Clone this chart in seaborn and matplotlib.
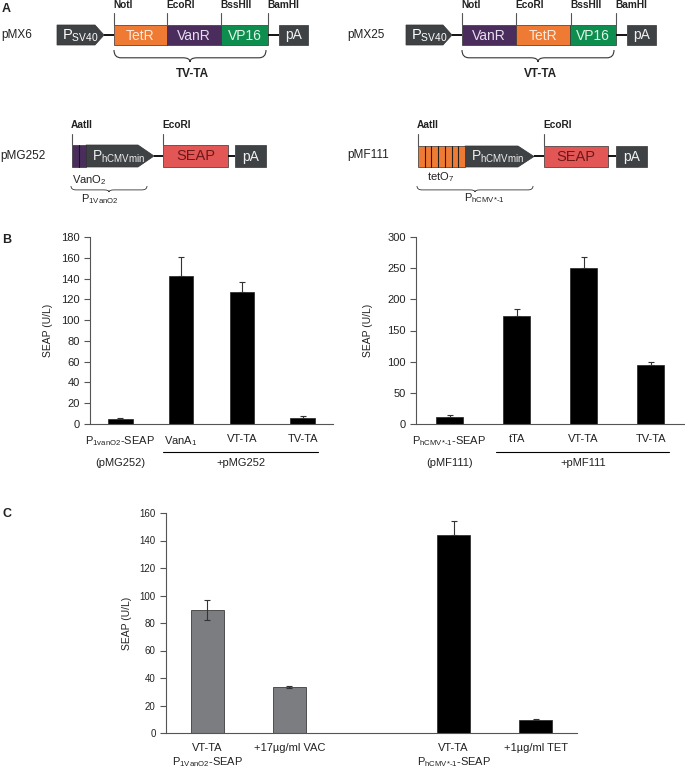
import matplotlib
matplotlib.use('Agg')
import matplotlib.pyplot as plt
import matplotlib.patches as mpatches
from matplotlib.path import Path
import numpy as np
import pandas as pd
import seaborn as sns

sns.set_style('white')
plt.rcParams['font.family'] = ['Liberation Sans', 'DejaVu Sans']
plt.rcParams['mathtext.fontset'] = 'custom'
plt.rcParams['mathtext.rm'] = 'Liberation Sans'
plt.rcParams['mathtext.it'] = 'Liberation Sans:italic'
plt.rcParams['mathtext.bf'] = 'Liberation Sans:bold'

HCMV = r'P$_{\mathrm{hCMV{*}\text{-}1}}$'

# Panel B, left: pMG252 reporter
b1_labels = [r'P$_{\mathrm{1vanO2}}$-SEAP', r'VanA$_{1}$', 'VT-TA', 'TV-TA']
b1_values = [4.5, 142, 127, 6]
b1_err = [1.5, 19, 10, 2]

# Panel B, right: pMF111 reporter
b2_labels = [HCMV + '-SEAP', 'tTA', 'VT-TA', 'TV-TA']
b2_values = [11, 174, 250, 95]
b2_err = [3.5, 10, 18, 4]

# Panel C: inducer response
c_labels = ['VT-TA\n' + r'P$_{\mathrm{1VanO2}}$-SEAP', '+17µg/ml VAC', ' ',
            'VT-TA\n' + HCMV + '-SEAP', '+1µg/ml TET']
c_values = [89.5, 33.5, np.nan, 144, 9.3]
c_err = [7, 0.5, np.nan, 10, 1]
c_colors = ['#7b7d81', '#7b7d81', '#000000', '#000000', '#000000']

W, H = 685, 769
ORANGE = '#ee7a33'
PURPLE = '#4a2d5c'
GREEN = '#0e8e4e'
DGRAY = '#3f4245'
RED = '#e25656'

fig = plt.figure(figsize=(W / 100, H / 100), dpi=100)

# ---------- panel A: schematic, drawn in pixel coords ----------
ax0 = fig.add_axes([0, 0, 1, 1])
ax0.set_xlim(0, W)
ax0.set_ylim(H, 0)
ax0.axis('off')


def box(x0, x1, y0, y1, color, text='', tc='white', fs=10):
    ax0.add_patch(mpatches.Rectangle((x0, y0), x1 - x0, y1 - y0, facecolor=color,
                                     edgecolor='#333333', lw=0.5))
    if text:
        ax0.text((x0 + x1) / 2, (y0 + y1) / 2 + 0.5, text, color=tc, fontsize=fs,
                 ha='center', va='center')


def promoter(x0, xa, x1, y0, y1, color=DGRAY):
    ym = (y0 + y1) / 2
    ax0.add_patch(mpatches.Polygon([(x0, y0), (xa, y0), (x1, ym), (xa, y1), (x0, y1)],
                                   closed=True, facecolor=color, edgecolor='#333333', lw=0.5))


def link(x0, x1, y):
    ax0.plot([x0, x1], [y, y], color='black', lw=1.3, solid_capstyle='butt')


def site(x, y0, y1, label, ly):
    ax0.plot([x, x], [y0, y1], color='#555555', lw=0.8)
    ax0.text(x - 1, ly, label, fontsize=7.3, fontweight='bold', ha='left', va='center',
             color='#222222')


def brace(x0, x1, yt, h, xm=None, r=7, lw=0.8):
    if xm is None:
        xm = (x0 + x1) / 2
    ym = yt + h * 0.65
    verts = [(x0, yt), (x0, ym), (x0 + r, ym),
             (xm - r, ym), (xm, ym), (xm, yt + h),
             (xm, ym), (xm + r, ym),
             (x1 - r, ym), (x1, ym), (x1, yt)]
    codes = [Path.MOVETO, Path.CURVE3, Path.CURVE3,
             Path.LINETO, Path.CURVE3, Path.CURVE3,
             Path.CURVE3, Path.CURVE3,
             Path.LINETO, Path.CURVE3, Path.CURVE3]
    ax0.add_patch(mpatches.PathPatch(Path(verts, codes), facecolor='none',
                                     edgecolor='#333333', lw=lw))


def label(x, y, s, fs=8, **kw):
    ax0.text(x, y, s, fontsize=fs, va='center', color='#222222', **kw)


# panel letters
label(2, 9, 'A', fs=9, fontweight='bold')
label(2, 240, 'B', fs=9, fontweight='bold')
label(3, 514, 'C', fs=9, fontweight='bold')

# pMX6
label(1, 35, 'pMX6', fs=8.5)
promoter(57, 95, 104, 25, 45)
ax0.text(62, 36, r'P$_{\mathrm{SV40}}$', color='white', fontsize=10.5, va='center')
link(104, 114, 35)
box(114, 167, 25, 45, ORANGE, 'TetR', tc='#fde9dc')
box(167, 221, 25, 45, PURPLE, 'VanR', tc='#e6def0')
box(221, 268, 25, 45, GREEN, 'VP16', tc='#e3f4ea')
link(268, 279, 35)
box(279, 308, 25, 45, DGRAY, 'pA', tc='#f0f0f0')
for x, s in [(114, 'NotI'), (167, 'EcoRI'), (221, 'BssHII'), (268, 'BamHI')]:
    site(x, 13, 25, s, 5)
brace(114, 266, 50, 12)
label(192, 74, 'TV-TA', fs=8.5, fontweight='bold', ha='center')

# pMX25
label(347, 35, 'pMX25', fs=8.5)
promoter(406, 443, 452, 25, 45)
ax0.text(411, 36, r'P$_{\mathrm{SV40}}$', color='white', fontsize=10.5, va='center')
link(452, 462, 35)
box(462, 516, 25, 45, PURPLE, 'VanR', tc='#e6def0')
box(516, 570, 25, 45, ORANGE, 'TetR', tc='#fde9dc')
box(570, 616, 25, 45, GREEN, 'VP16', tc='#e3f4ea')
link(616, 627, 35)
box(627, 656, 25, 45, DGRAY, 'pA', tc='#f0f0f0')
for x, s in [(462, 'NotI'), (516, 'EcoRI'), (571, 'BssHII'), (616, 'BamHI')]:
    site(x, 13, 25, s, 5)
brace(462, 614, 50, 12)
label(540, 74, 'VT-TA', fs=8.5, fontweight='bold', ha='center')

# pMG252
label(0, 156, 'pMG252', fs=8.5)
promoter(86, 138, 154, 145, 167)
box(72, 86, 145, 167, PURPLE)
ax0.plot([79, 79], [145, 167], color='#1c1024', lw=0.8)
ax0.text(92, 157, r'P$_{\mathrm{hCMVmin}}$', color='#eeeeee', fontsize=10, va='center')
link(154, 163, 156)
box(163, 228, 145, 167, RED, 'SEAP', tc='#6e1818', fs=10.5)
link(228, 235, 156)
box(235, 266, 145, 167, DGRAY, 'pA', tc='#f0f0f0')
site(72, 134, 145, 'AatII', 125)
site(163, 134, 145, 'EcoRI', 125)
label(72, 180, r'VanO$_{2}$', fs=8)
brace(71, 147, 186, 6, xm=109, r=5, lw=0.6)
label(100, 199, r'P$_{\mathrm{1VanO2}}$', fs=8, ha='center')

# pMF111
label(347, 155, 'pMF111', fs=8.5)
promoter(465, 518, 534, 146, 167)
box(418, 465, 146, 167, ORANGE)
for k in range(1, 7):
    xk = 418 + k * 47 / 7
    ax0.plot([xk, xk], [146, 167], color='#222222', lw=0.8)
ax0.text(471, 157, r'P$_{\mathrm{hCMVmin}}$', color='#eeeeee', fontsize=10, va='center')
link(534, 544, 156)
box(544, 608, 146, 167, RED, 'SEAP', tc='#6e1818', fs=10.5)
link(608, 616, 156)
box(616, 647, 146, 167, DGRAY, 'pA', tc='#f0f0f0')
site(418, 134, 146, 'AatII', 125)
site(544, 134, 146, 'EcoRI', 125)
label(427, 177, r'tetO$_{7}$', fs=8)
brace(417, 533, 186, 6, xm=475, r=5, lw=0.6)
label(464, 198, HCMV, fs=8)


# ---------- bar charts ----------
def make_ax(l, r, t, b):
    return fig.add_axes([l / W, 1 - b / H, (r - l) / W, (b - t) / H])


def bar_panel(ax, labels, values, errs, colors, ymax, ystep, fs=8):
    df = pd.DataFrame({'cond': labels, 'seap': values})
    pal = dict(zip(labels, colors))
    sns.barplot(data=df, x='cond', y='seap', hue='cond', order=labels, hue_order=labels,
                palette=pal, width=0.4, edgecolor='#222222', linewidth=0.5,
                errorbar=None, legend=False, ax=ax)
    # lower whisker only shows on the grey bars; hidden inside the black ones
    lower = [e if c != 'black' and c != '#000000' else 0 for e, c in zip(errs, colors)]
    ax.errorbar(np.arange(len(labels)), values, yerr=[lower, errs], fmt='none',
                ecolor='#333333', elinewidth=0.8, capsize=2.5, capthick=0.8)
    n = len(labels)
    ax.set_xlim(-0.5, n - 0.5)
    ax.set_ylim(0, ymax)
    ax.set_yticks(np.arange(0, ymax + 1, ystep))
    ax.set_xticks(np.arange(-0.5, n, 1.0), minor=True)
    ax.tick_params(axis='x', which='major', length=0, pad=7, labelsize=fs, colors='#222222')
    ax.tick_params(axis='x', which='minor', length=4, direction='out', width=0.8, color='#555555')
    ax.tick_params(axis='y', which='major', length=4, direction='out', width=0.8,
                   labelsize=fs, color='#555555', labelcolor='#222222', left=True)
    for side in ['top', 'right']:
        ax.spines[side].set_visible(False)
    for side in ['left', 'bottom']:
        ax.spines[side].set_color('#555555')
        ax.spines[side].set_linewidth(0.8)
    ax.set_xlabel('')
    ax.set_ylabel('SEAP (U/L)', fontsize=7.5, color='#222222')
    ax.patch.set_alpha(0)


axb1 = make_ax(90, 333, 237, 424)
bar_panel(axb1, b1_labels, b1_values, b1_err, ['black'] * 4, 180, 20)
axb1.yaxis.set_label_coords(-0.152, 0.5)
axb1.plot([0.7, 3.25], [-0.15, -0.15], color='black', lw=0.8,
          transform=axb1.get_xaxis_transform(), clip_on=False)
axb1.text(0, -0.21, '(pMG252)', fontsize=8, ha='center', va='center',
          transform=axb1.get_xaxis_transform(), color='#222222')
axb1.text(1.98, -0.21, '+pMG252', fontsize=8, ha='center', va='center',
          transform=axb1.get_xaxis_transform(), color='#222222')

axb2 = make_ax(416, 684, 237, 424)
bar_panel(axb2, b2_labels, b2_values, b2_err, ['black'] * 4, 300, 50)
axb2.yaxis.set_label_coords(-0.16, 0.5)
axb2.plot([0.7, 3.27], [-0.15, -0.15], color='black', lw=0.8,
          transform=axb2.get_xaxis_transform(), clip_on=False)
axb2.text(0, -0.21, '(pMF111)', fontsize=8, ha='center', va='center',
          transform=axb2.get_xaxis_transform(), color='#222222')
axb2.text(2.0, -0.21, '+pMF111', fontsize=8, ha='center', va='center',
          transform=axb2.get_xaxis_transform(), color='#222222')

axc = make_ax(166, 577, 513, 733)
bar_panel(axc, c_labels, c_values, c_err, c_colors, 160, 20, fs=8)
axc.tick_params(axis='y', labelsize=7)
axc.yaxis.set_label_coords(-0.083, 0.5)

fig.savefig('out.png', dpi=100)
